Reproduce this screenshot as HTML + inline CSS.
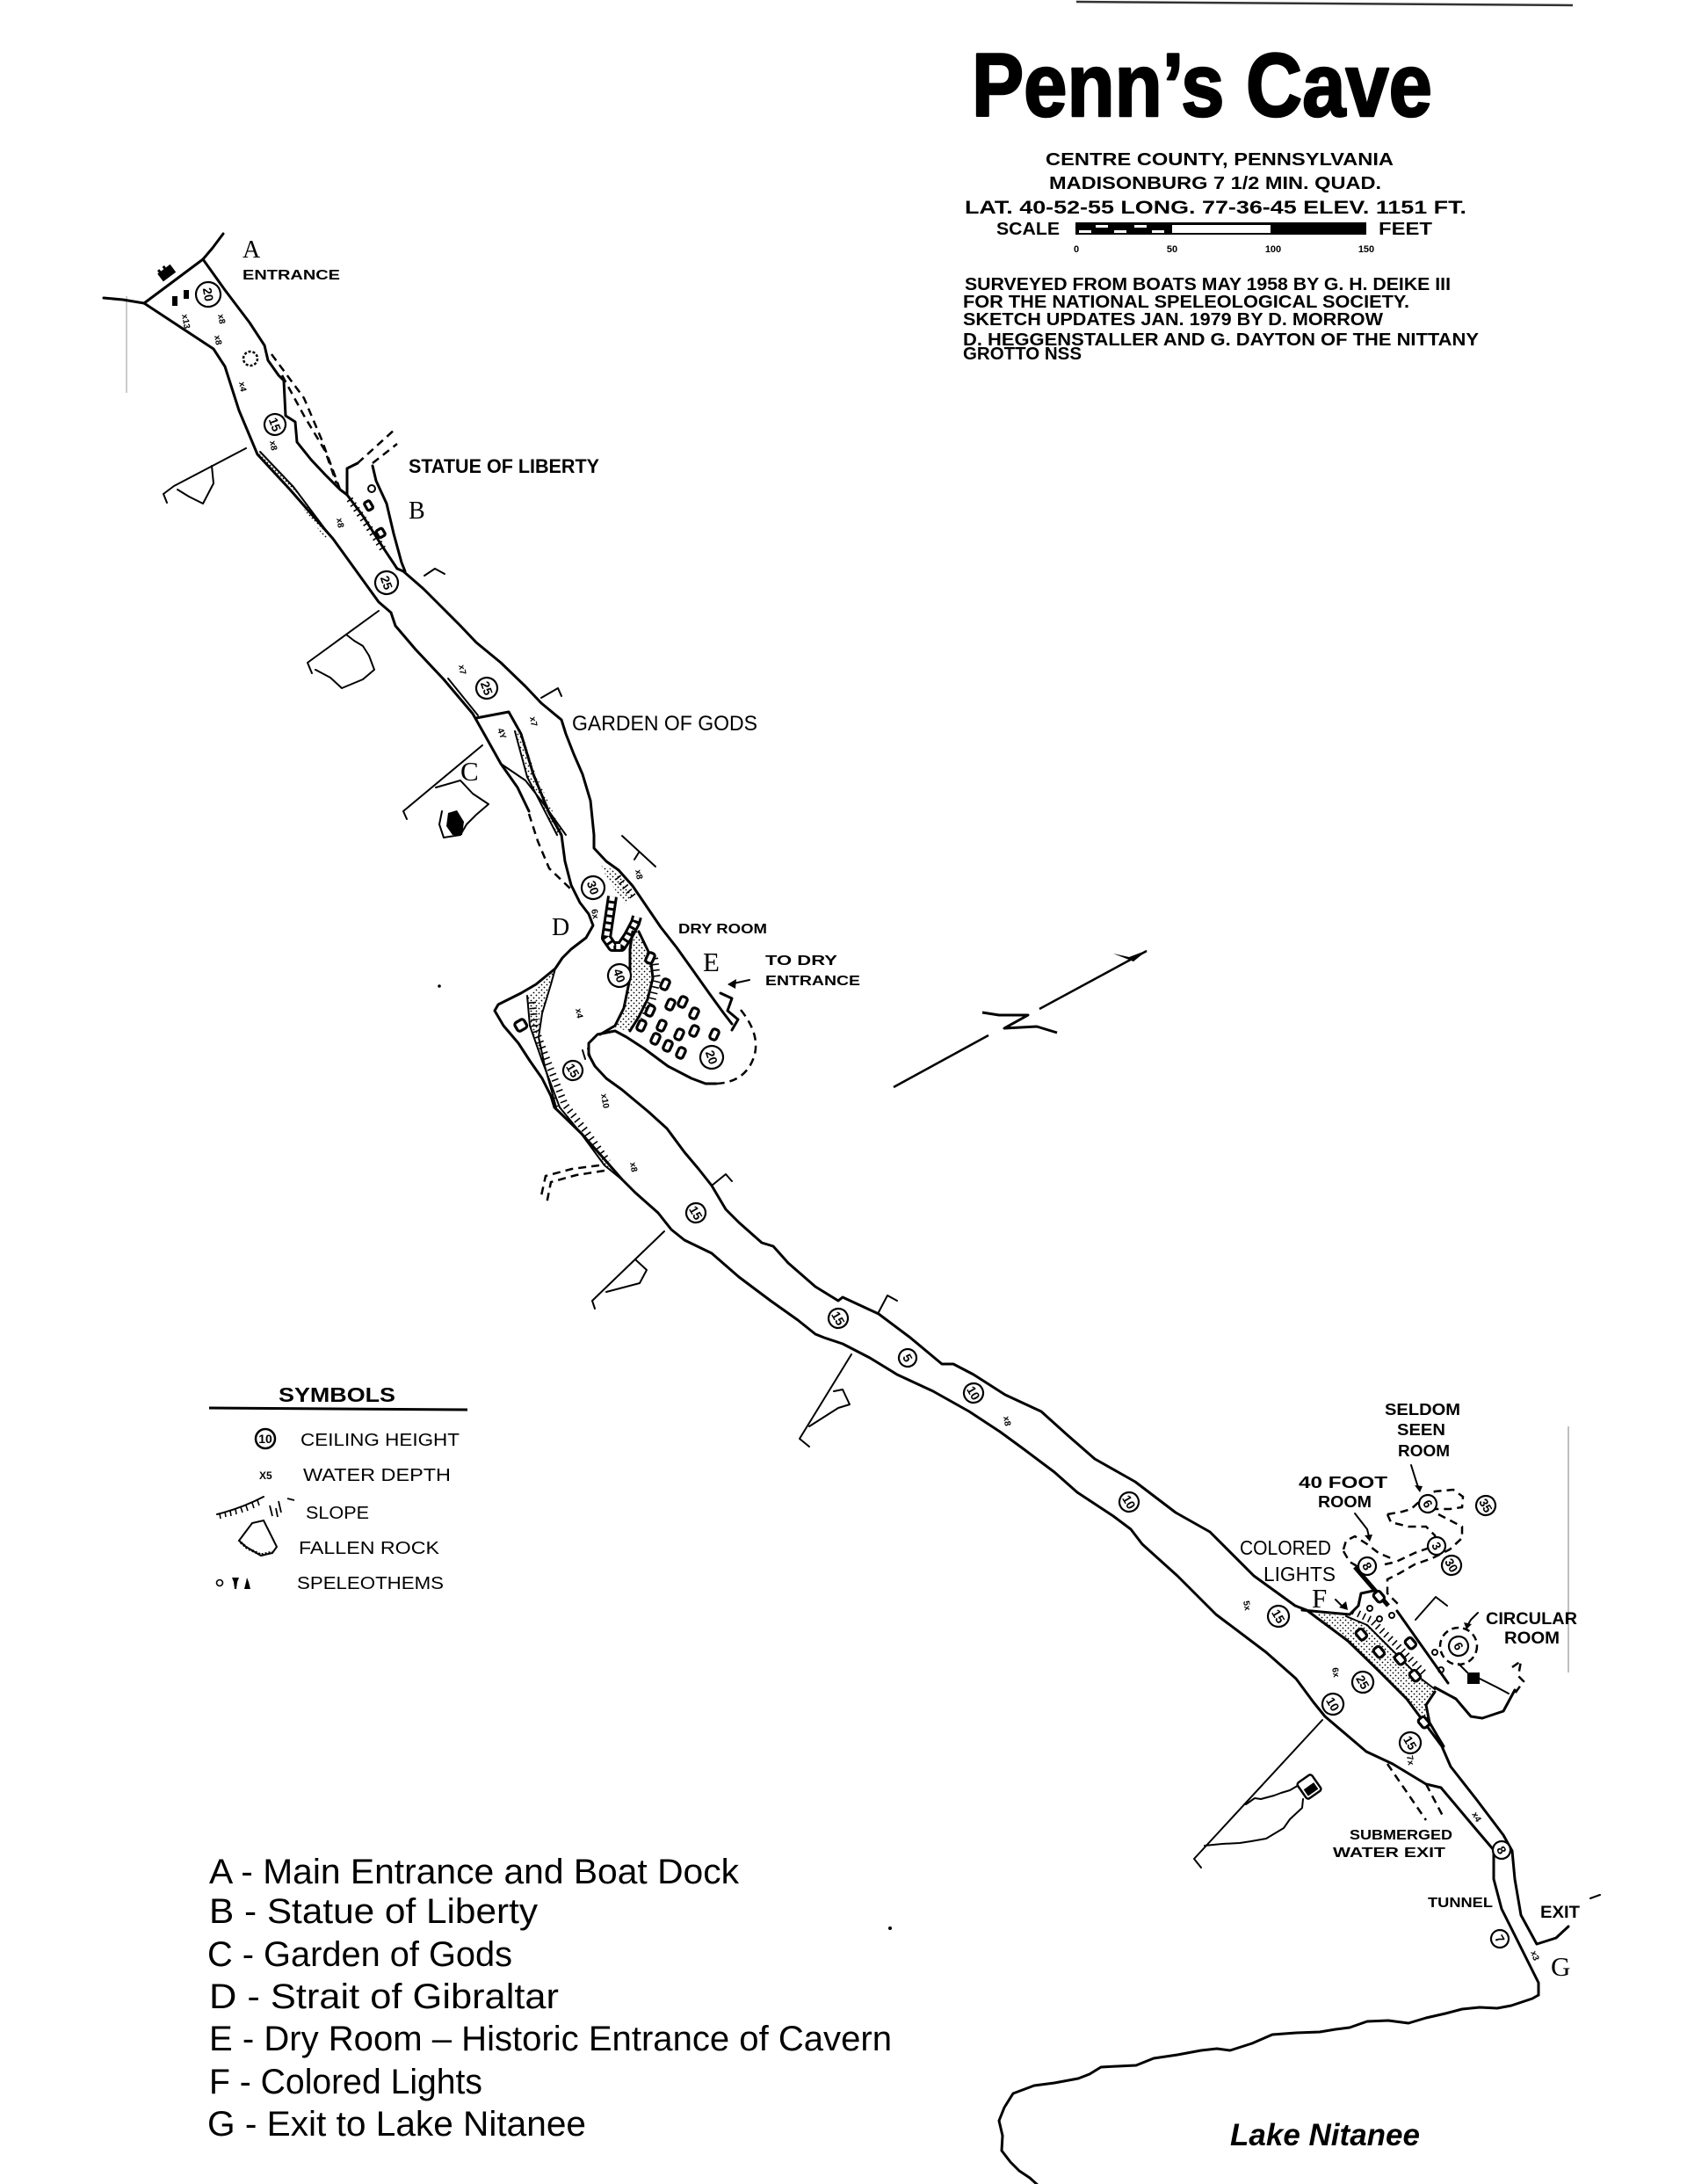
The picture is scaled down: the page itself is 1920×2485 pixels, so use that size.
<!DOCTYPE html>
<html><head><meta charset="utf-8"><title>Penn's Cave</title>
<style>
html,body{margin:0;padding:0;background:#fff;}
svg{display:block;}
.b{font-family:"Liberation Sans",sans-serif;font-weight:bold;fill:#000;}
.s{font-family:"Liberation Serif",serif;fill:#000;}
.h{font-family:"Liberation Sans Narrow","Liberation Sans",sans-serif;fill:#000;}
.w{fill:none;stroke:#000;stroke-width:3;stroke-linejoin:round;stroke-linecap:round;}
.t{fill:none;stroke:#000;stroke-width:2;stroke-linejoin:round;stroke-linecap:round;}
.d{fill:none;stroke:#000;stroke-width:2.5;stroke-dasharray:9 6;}
.ht{fill:none;stroke:#000;stroke-width:8;stroke-dasharray:1.6 5;}
.c circle{fill:#fff;stroke:#000;stroke-width:2.2;}
.c text{font-family:"Liberation Sans",sans-serif;font-weight:bold;font-size:14px;text-anchor:middle;}
.x{font-family:"Liberation Sans",sans-serif;font-weight:bold;font-size:10px;}
.rk{fill:#fff;stroke:#000;stroke-width:3.2;}
</style></head>
<body>
<svg width="1920" height="2485" viewBox="0 0 1920 2485" xmlns="http://www.w3.org/2000/svg">
<defs>
<pattern id="dots" width="6" height="6" patternUnits="userSpaceOnUse">
<circle cx="1.5" cy="1.5" r="0.9" fill="#000"/><circle cx="4.5" cy="4.5" r="0.9" fill="#000"/>
</pattern>
</defs>
<rect width="1920" height="2485" fill="#fff"/>

<!-- top line -->
<path d="M1225,2 L1790,6" stroke="#333" stroke-width="2.5" fill="none"/>
<!-- faint artifacts -->
<path d="M1785,1623 L1785,1903" stroke="#aaa" stroke-width="1.5"/>
<path d="M144,337 L144,447" stroke="#bbb" stroke-width="1.5"/>

<!-- TITLE BLOCK -->
<text class="b" x="1106" y="132" font-size="102" textLength="524" lengthAdjust="spacingAndGlyphs" stroke="#000" stroke-width="2.5" stroke-linejoin="round">Penn’s Cave</text>
<text class="b" x="1190" y="188" font-size="20" textLength="396" lengthAdjust="spacingAndGlyphs">CENTRE COUNTY, PENNSYLVANIA</text>
<text class="b" x="1194" y="215" font-size="20" textLength="378" lengthAdjust="spacingAndGlyphs">MADISONBURG 7 1/2 MIN. QUAD.</text>
<text class="b" x="1098" y="243" font-size="21" textLength="571" lengthAdjust="spacingAndGlyphs">LAT. 40-52-55  LONG. 77-36-45  ELEV. 1151 FT.</text>
<text class="b" x="1134" y="267" font-size="20" textLength="72" lengthAdjust="spacingAndGlyphs">SCALE</text>
<text class="b" x="1569" y="267" font-size="20" textLength="61" lengthAdjust="spacingAndGlyphs">FEET</text>
<!-- scale bar -->
<rect x="1224" y="253" width="331" height="14" fill="#000"/>
<rect x="1334" y="256" width="112" height="9" fill="#fff"/>
<rect x="1228" y="262" width="14" height="3" fill="#fff"/>
<rect x="1247" y="256" width="14" height="3" fill="#fff"/>
<rect x="1268" y="262" width="14" height="3" fill="#fff"/>
<rect x="1291" y="256" width="14" height="3" fill="#fff"/>
<rect x="1311" y="262" width="14" height="3" fill="#fff"/>
<text class="b" x="1225" y="287" font-size="11" text-anchor="middle">0</text>
<text class="b" x="1334" y="287" font-size="11" text-anchor="middle">50</text>
<text class="b" x="1449" y="287" font-size="11" text-anchor="middle">100</text>
<text class="b" x="1555" y="287" font-size="11" text-anchor="middle">150</text>
<text class="b" x="1098" y="330" font-size="20" textLength="553" lengthAdjust="spacingAndGlyphs">SURVEYED FROM BOATS MAY 1958 BY G. H. DEIKE III</text>
<text class="b" x="1096" y="350" font-size="20" textLength="508" lengthAdjust="spacingAndGlyphs">FOR THE NATIONAL SPELEOLOGICAL SOCIETY.</text>
<text class="b" x="1096" y="370" font-size="20" textLength="478" lengthAdjust="spacingAndGlyphs">SKETCH UPDATES JAN. 1979 BY D. MORROW</text>
<text class="b" x="1096" y="393" font-size="20" textLength="587" lengthAdjust="spacingAndGlyphs">D. HEGGENSTALLER AND G. DAYTON OF THE NITTANY</text>
<text class="b" x="1096" y="409" font-size="20" textLength="135" lengthAdjust="spacingAndGlyphs">GROTTO NSS</text>

<!-- ENTRANCE -->
<path class="w" d="M254,266 L242,282 L231,295"/>
<path class="w" d="M118,339 L140,341 L164,345"/>
<path class="w" d="M231,295 L164,345"/>
<g transform="translate(190,311) rotate(-37)"><rect x="-9" y="-6" width="18" height="11" fill="#000"/><rect x="-7" y="-9" width="3" height="4" fill="#000"/><rect x="0" y="-9" width="3" height="4" fill="#000"/></g>
<rect x="196" y="337" width="6" height="11" fill="#000"/>
<rect x="209" y="330" width="6" height="10" fill="#000"/>

<!-- MAIN SW WALL (upper) -->
<path class="w" d="M164,345 L243,397 L256,417 L272,467 L293,517 L330,557 L379,613 L431,685 L445,697 L450,712 L473,739 L505,773 L538,812 L551,835 L570,869 L589,896 L602,923"/>
<path class="d" d="M602,926 L612,957 L625,988 L649,1011"/>
<!-- slope along left wall -->
<path class="t" d="M296,514 L334,554 L376,610"/>
<polygon points="289,510 296,514 334,554 376,610 370,613 330,557" fill="url(#dots)"/>
<path class="t" d="M510,772 L544,814"/>

<!-- Garden island line L2 + continuing SW wall + lake -->
<path class="w" d="M542,817 L579,810 L593,835 L607,881 L625,925 L639,950 L643,980 L650,1007 L660,1027 L670,1040 L675,1053 L667,1067 L650,1080 L640,1090 L632,1102 L610,1120 L593,1130 L567,1143 L563,1150 L573,1167 L590,1187 L603,1207 L617,1227 L627,1247 L631,1260 L662,1290 L687,1318 L708,1342 L723,1357 L749,1380 L764,1399 L779,1411 L810,1426 L841,1453 L877,1480 L908,1502 L928,1518 L938,1522 L959,1529 L990,1545 L1021,1564 L1062,1583 L1103,1606 L1138,1629 L1164,1648 L1200,1675 L1226,1698 L1267,1725 L1287,1740 L1300,1757 L1340,1793 L1384,1837 L1441,1880 L1475,1910 L1495,1937 L1508,1953 L1555,1993 L1585,2007 L1623,2030 L1640,2034 L1677,2078 L1700,2105 L1700,2138 L1709,2172 L1734,2222 L1751,2256 L1751,2270"/>
<path class="w" stroke-width="2.6" d="M1751,2270 L1744,2274 L1738,2276 L1720,2282 L1704,2285 L1684,2284 L1664,2286 L1645,2291 L1623,2296 L1603,2302 L1580,2299 L1556,2300 L1536,2307 L1520,2309 L1502,2312 L1475,2313 L1448,2315 L1425,2325 L1400,2333 L1385,2331 L1367,2333 L1340,2338 L1313,2342 L1293,2350 L1272,2351 L1253,2352 L1240,2360 L1227,2365 L1200,2370 L1177,2373 L1153,2382 L1143,2398 L1137,2413 L1141,2430 L1140,2447 L1150,2460 L1160,2470 L1172,2478 L1183,2488"/>

<!-- inner garden line -->
<path class="t" d="M570,869 L598,888 L616,911 L644,950"/>
<polygon points="585,830 595,836 610,881 641,950 634,952 600,884" fill="url(#dots)"/>
<path class="t" d="M586,832 L600,884 L634,950"/>
<text class="x" transform="translate(566,830) rotate(70)">4Y</text>

<!-- MAIN NE WALL -->
<path class="w" d="M231,295 L256,330 L284,367 L301,393 L305,410 L317,427 L323,433 L325,473 L336,480 L338,503 L354,523 L370,540 L387,557 L395,563"/>
<path class="w" d="M395,563 L413,587 L436,623 L452,647"/>
<path class="ht" d="M398,568 L415,593 L438,628"/>
<path class="w" d="M452,647 L459,650 L482,670 L505,693 L524,712 L542,731 L570,754 L598,781 L616,800 L639,819 L644,835 L653,858 L663,881 L672,911 L676,950 L676,965 L690,980 L704,990 L720,1008 L737,1033 L752,1055 L770,1078 L790,1106 L807,1130 L823,1152 L833,1165"/>
<!-- B alcove -->
<path class="w" d="M395,563 L395,533 L407,527"/>
<path class="d" d="M407,527 L450,488"/>
<path class="d" d="M424,527 L452,505"/>
<path class="w" d="M424,530 L428,547 L440,573 L448,607 L457,640 L461,650"/>
<circle cx="423" cy="556" r="4" fill="none" stroke="#000" stroke-width="2"/>
<rect x="416" y="570" width="7" height="10" rx="2" class="rk" transform="rotate(-30 420 575)"/>
<rect x="429" y="602" width="8" height="9" rx="2" class="rk" transform="rotate(-30 433 606)"/>
<!-- side passage dashed near top -->
<path class="d" d="M309,403 L346,453 L366,500 L387,557"/>
<path class="d" d="M321,427 L346,473 L370,513 L383,550"/>
<circle cx="285" cy="408" r="8" fill="none" stroke="#000" stroke-width="2.5" stroke-dasharray="3 2"/>

<!-- Dry room -->
<path class="w" d="M820,1130 L833,1136 L828,1150 L840,1160 L833,1172"/>
<path class="d" d="M843,1149 Q872,1185 852,1215 Q840,1232 815,1233"/>
<path class="t" d="M853,1115 L830,1120"/><path d="M828,1120 L838,1114 L837,1125 Z" fill="#000"/>
<polygon points="683,985 700,990 720,1018 712,1030 695,1005" fill="url(#dots)"/>
<path class="ht" d="M703,998 L722,1022"/>
<path d="M697,1020 L693,1047 L690,1067 L697,1077 L707,1077 L715,1065 L723,1050 L725,1043" fill="none" stroke="#000" stroke-width="12" stroke-linejoin="round"/>
<path d="M697,1020 L693,1047 L690,1067 L697,1077 L707,1077 L715,1065 L723,1050 L725,1043" fill="none" stroke="#fff" stroke-width="6" stroke-dasharray="5 3" stroke-linejoin="round"/>
<path class="w" d="M720,1060 L717,1080 L717,1113 L710,1147 L700,1167 L683,1177"/>
<path class="w" d="M727,1060 L740,1087 L743,1113 L737,1137 L727,1157 L717,1173"/>
<polygon points="720,1060 727,1060 740,1087 743,1113 737,1137 727,1157 717,1173 700,1170 710,1147 717,1113 717,1080" fill="url(#dots)"/>
<path class="ht" d="M745,1090 L748,1115 L742,1140 L732,1160"/>
<g>
<rect x="736" y="1084" width="8" height="12" rx="3" class="rk" transform="rotate(25 740 1090)"/>
<rect x="753" y="1114" width="8" height="12" rx="3" class="rk" transform="rotate(25 757 1120)"/>
<rect x="759" y="1137" width="8" height="12" rx="3" class="rk" transform="rotate(25 763 1143)"/>
<rect x="736" y="1144" width="8" height="12" rx="3" class="rk" transform="rotate(25 740 1150)"/>
<rect x="749" y="1161" width="8" height="12" rx="3" class="rk" transform="rotate(25 753 1167)"/>
<rect x="769" y="1171" width="8" height="12" rx="3" class="rk" transform="rotate(25 773 1177)"/>
<rect x="786" y="1167" width="8" height="12" rx="3" class="rk" transform="rotate(25 790 1173)"/>
<rect x="756" y="1184" width="8" height="12" rx="3" class="rk" transform="rotate(25 760 1190)"/>
<rect x="726" y="1161" width="8" height="12" rx="3" class="rk" transform="rotate(25 730 1167)"/>
<rect x="786" y="1147" width="8" height="12" rx="3" class="rk" transform="rotate(25 790 1153)"/>
<rect x="809" y="1171" width="8" height="12" rx="3" class="rk" transform="rotate(25 813 1177)"/>
<rect x="773" y="1134" width="8" height="12" rx="3" class="rk" transform="rotate(25 777 1140)"/>
<rect x="771" y="1192" width="8" height="12" rx="3" class="rk" transform="rotate(25 775 1198)"/>
<rect x="742" y="1176" width="8" height="12" rx="3" class="rk" transform="rotate(25 746 1182)"/>
</g>

<!-- Hook + main NE wall lower -->
<path class="w" d="M815,1233 L803,1233 L787,1227 L760,1213 L733,1193 L713,1180 L700,1173 L680,1177 L670,1187 L670,1200 L677,1213 L690,1227 L708,1240 L738,1265 L759,1284 L779,1311 L795,1330 L810,1349 L826,1376 L841,1391 L867,1414 L880,1418 L897,1437 L928,1464 L954,1480 L959,1476 L1000,1495 L1036,1522 L1072,1552 L1085,1552 L1108,1564 L1144,1587 L1185,1606 L1215,1633 L1246,1660 L1292,1686 L1338,1721 L1377,1743 L1427,1793 L1474,1827 L1487,1832 L1534,1867 L1568,1900 L1601,1933 L1621,1960 L1641,1987 L1651,2010 L1680,2047 L1711,2088 L1721,2106 L1724,2138 L1731,2179 L1749,2212 L1771,2205 L1785,2192"/>
<path class="t" d="M1810,2160 L1821,2156"/>

<!-- Bulb stipple -->
<polygon points="632,1102 627,1120 617,1153 613,1180 620,1213 633,1260 637,1260 617,1207 603,1167 600,1133" fill="url(#dots)"/>
<path class="t" d="M632,1102 L627,1120 L617,1153 L613,1180 L620,1213 L633,1260"/>
<path class="t" d="M600,1133 L603,1167 L617,1207 L637,1260 L660,1288 L688,1326 L710,1344"/>
<path class="ht" d="M606,1140 L609,1170 L623,1207 L643,1257 L666,1286 L692,1322"/>
<polygon points="640,1262 662,1290 690,1328 708,1342 687,1318 660,1288" fill="url(#dots)"/>
<rect x="587" y="1161" width="12" height="11" rx="3" class="rk" transform="rotate(-30 593 1167)"/>
<path class="t" d="M663,1195 L666,1205 M669,1193 L672,1203"/>

<!-- dashed side near bulb -->
<path class="d" d="M682,1326 L651,1330 L621,1338 L615,1365"/>
<path class="d" d="M688,1332 L656,1337 L627,1345 L622,1370"/>

<!-- F area -->
<path d="M1542,1783 L1580,1827" stroke="#000" stroke-width="5" fill="none"/>
<path class="w" d="M1482,1832 L1536,1837 L1546,1827 L1549,1813 L1563,1810"/>
<path class="w" d="M1590,1833 L1648,1915"/>
<polygon points="1487,1834 1532,1839 1556,1849 1586,1879 1616,1909 1633,1922 1623,1940 1627,1960 1640,1985 1630,1972 1610,1945 1590,1925 1568,1902 1534,1869" fill="url(#dots)"/>
<path class="t" d="M1532,1839 L1556,1849 L1586,1879 L1616,1909 L1633,1922"/>
<path class="ht" d="M1540,1833 L1560,1843 L1590,1872 L1620,1903"/>
<path class="w" d="M1633,1920 L1657,1933 L1674,1953 L1687,1955 L1711,1947 L1724,1923"/>
<path class="w" d="M1633,1925 L1623,1940 L1627,1960 L1637,1977 L1643,1987"/>
<path class="t" d="M1660,1893 L1670,1903 M1684,1910 L1704,1920 L1717,1927"/>
<rect x="1670" y="1903" width="14" height="13" fill="#000"/>
<g>
<rect x="1565" y="1811" width="9" height="12" rx="3" class="rk" transform="rotate(-40 1569 1817)"/>
<rect x="1545" y="1854" width="9" height="12" rx="3" class="rk" transform="rotate(-40 1549 1860)"/>
<rect x="1565" y="1874" width="9" height="12" rx="3" class="rk" transform="rotate(-40 1569 1880)"/>
<rect x="1589" y="1882" width="9" height="12" rx="3" class="rk" transform="rotate(-40 1593 1888)"/>
<rect x="1601" y="1864" width="9" height="12" rx="3" class="rk" transform="rotate(-40 1605 1870)"/>
<rect x="1606" y="1901" width="9" height="12" rx="3" class="rk" transform="rotate(-40 1610 1907)"/>
<rect x="1616" y="1954" width="9" height="12" rx="3" class="rk" transform="rotate(-40 1620 1960)"/>
<circle cx="1559" cy="1830" r="3" fill="none" stroke="#000" stroke-width="2"/>
<circle cx="1570" cy="1842" r="3" fill="none" stroke="#000" stroke-width="2"/>
<circle cx="1584" cy="1838" r="3" fill="none" stroke="#000" stroke-width="2"/>
<circle cx="1633" cy="1880" r="3" fill="none" stroke="#000" stroke-width="2"/>
<circle cx="1640" cy="1900" r="3" fill="none" stroke="#000" stroke-width="2"/>
</g>
<!-- dashed rooms -->
<path class="d" d="M1579,1723 L1596,1720 L1606,1717 L1617,1707 L1633,1697 L1654,1695 L1665,1703 L1664,1715 L1650,1717 L1633,1717 L1623,1720"/>
<path class="d" d="M1579,1723 L1583,1732 L1603,1737 L1623,1737 L1633,1747 L1637,1760"/>
<path class="d" d="M1637,1723 L1664,1737 L1664,1750 L1650,1763 L1630,1773 L1610,1780 L1593,1790 L1579,1797 L1579,1813 L1589,1823 L1593,1827"/>
<path class="d" d="M1529,1763 L1532,1753 L1542,1748 L1556,1757 L1569,1767 L1583,1773"/>
<path class="d" d="M1529,1765 L1536,1777 L1546,1783"/>
<path class="d" d="M1576,1780 L1589,1777 L1610,1767 L1630,1760"/>
<circle cx="1660" cy="1873" r="21" fill="none" stroke="#000" stroke-width="2.5" stroke-dasharray="8 5"/>
<path class="d" d="M1721,1897 L1731,1890 L1728,1907 L1734,1913 L1724,1927"/>
<!-- label arrows -->
<path class="t" d="M1606,1667 L1611,1683 L1614,1692"/><path d="M1610,1690 L1619,1691 L1616,1698 Z" fill="#000"/>
<path class="t" d="M1542,1722 L1556,1740 L1558,1748"/><path d="M1553,1747 L1562,1746 L1559,1754 Z" fill="#000"/>
<path class="t" d="M1520,1820 L1528,1828"/><path d="M1524,1829 L1532,1822 L1534,1832 Z" fill="#000"/>
<path class="t" d="M1682,1835 L1674,1843 L1671,1848"/><path d="M1666,1846 L1675,1848 L1669,1854 Z" fill="#000"/>

<!-- submerged dashed -->
<path class="d" d="M1579,2007 L1623,2071"/>
<path class="d" d="M1623,2030 L1643,2068"/>

<!-- CROSS-SECTIONS -->
<path class="t" d="M280,510 L198,553 L186,562 L190,572"/>
<path class="t" d="M241,530 L243,550 L231,573 L215,565 L202,557"/>
<path class="t" d="M431,695 L350,754 L355,766"/>
<path class="t" d="M394,722 L403,729 L413,735 L420,746 L426,762 L413,773 L389,783 L376,771 L359,762"/>
<path class="t" d="M549,848 L459,923 L463,932"/>
<path class="t" d="M496,896 L524,888 L538,903 L556,915 L542,927 L531,938 L524,950 L505,953 L500,938 L503,923"/>
<polygon points="510,925 520,922 528,935 526,950 515,950 508,940" fill="#000"/>
<path class="t" d="M810,1349 L826,1336 L833,1344"/>
<path class="t" d="M756,1401 L674,1480 L677,1489"/>
<path class="t" d="M723,1433 L736,1445 L728,1460 L690,1470"/>
<path class="t" d="M1000,1493 L1010,1474 L1021,1480"/>
<path class="t" d="M969,1541 L910,1637 L921,1646"/>
<path class="t" d="M949,1583 L959,1581 L967,1598 L954,1602 L921,1623"/>
<path class="t" d="M1505,1957 L1359,2115 L1367,2125"/>
<path class="t" d="M1371,2100 L1391,2098 L1411,2097 L1424,2095 L1441,2092 L1461,2080 L1468,2070 L1482,2057 L1483,2047"/>
<path class="t" d="M1418,2053 L1428,2046 L1435,2047 L1450,2043 L1458,2040 L1468,2037 L1480,2030"/>
<g transform="rotate(-35 1490 2033)"><rect x="1480" y="2022" width="20" height="22" rx="3" fill="#fff" stroke="#000" stroke-width="2.5"/><rect x="1483" y="2032" width="14" height="9" fill="#000"/></g>
<path class="t" d="M1611,1843 L1634,1817 L1647,1827"/>
<path class="t" d="M616,794 L635,783 L639,792"/>
<path class="t" d="M483,655 L495,647 L506,653"/>
<path class="t" d="M708,951 L746,986"/><path class="t" d="M727,970 L722,978"/>

<!-- NORTH ARROW -->
<path d="M1017,1237 L1125,1178" stroke="#000" stroke-width="2.5" fill="none"/>
<path d="M1183,1148 L1305,1082" stroke="#000" stroke-width="2.5" fill="none"/>
<path d="M1267,1085 L1285,1089 L1306,1081 L1290,1094 Z" fill="#000"/>
<path d="M1118,1152 L1137,1155 L1170,1155 L1143,1170 L1180,1168 L1203,1175" fill="none" stroke="#000" stroke-width="3" stroke-linejoin="round"/>

<!-- dots -->
<circle cx="500" cy="1122" r="1.8" fill="#000"/>
<circle cx="1013" cy="2194" r="2" fill="#000"/>

<!-- CEILING CIRCLES -->
<g class="c">
<g transform="translate(237,335) rotate(80)"><circle r="14"/><text y="5">20</text></g>
<g transform="translate(313,483) rotate(70)"><circle r="12"/><text y="5">15</text></g>
<g transform="translate(440,663) rotate(70)"><circle r="13"/><text y="5">25</text></g>
<g transform="translate(554,783) rotate(70)"><circle r="12"/><text y="5">25</text></g>
<g transform="translate(675,1010) rotate(70)"><circle r="13"/><text y="5">30</text></g>
<g transform="translate(705,1110) rotate(70)"><circle r="13"/><text y="5">40</text></g>
<g transform="translate(810,1203) rotate(70)"><circle r="13"/><text y="5">20</text></g>
<g transform="translate(652,1218) rotate(60)"><circle r="11"/><text y="5">15</text></g>
<g transform="translate(792,1380) rotate(60)"><circle r="11"/><text y="5">15</text></g>
<g transform="translate(954,1500) rotate(60)"><circle r="11"/><text y="5">15</text></g>
<g transform="translate(1033,1545) rotate(60)"><circle r="10"/><text y="5">5</text></g>
<g transform="translate(1108,1585) rotate(60)"><circle r="11"/><text y="5">10</text></g>
<g transform="translate(1285,1709) rotate(60)"><circle r="11"/><text y="5">10</text></g>
<g transform="translate(1455,1839) rotate(60)"><circle r="12"/><text y="5">15</text></g>
<g transform="translate(1551,1914) rotate(60)"><circle r="12"/><text y="5">25</text></g>
<g transform="translate(1517,1939) rotate(60)"><circle r="12"/><text y="5">10</text></g>
<g transform="translate(1605,1983) rotate(60)"><circle r="12"/><text y="5">15</text></g>
<g transform="translate(1556,1782) rotate(60)"><circle r="10"/><text y="5">8</text></g>
<g transform="translate(1625,1711) rotate(60)"><circle r="10"/><text y="5">6</text></g>
<g transform="translate(1691,1713) rotate(60)"><circle r="11"/><text y="5">35</text></g>
<g transform="translate(1635,1759) rotate(60)"><circle r="10"/><text y="5">3</text></g>
<g transform="translate(1652,1781) rotate(60)"><circle r="11"/><text y="5">30</text></g>
<g transform="translate(1660,1873) rotate(60)"><circle r="11"/><text y="5">6</text></g>
<g transform="translate(1709,2105) rotate(60)"><circle r="10"/><text y="5">8</text></g>
<g transform="translate(1707,2206) rotate(60)"><circle r="10"/><text y="5">7</text></g>
</g>

<!-- depth marks -->
<g class="x">
<text transform="translate(248,358) rotate(80)">x8</text>
<text transform="translate(207,358) rotate(80)">x13</text>
<text transform="translate(244,382) rotate(80)">x8</text>
<text transform="translate(272,435) rotate(80)">x4</text>
<text transform="translate(307,502) rotate(80)">x8</text>
<text transform="translate(383,590) rotate(80)">x8</text>
<text transform="translate(522,757) rotate(80)">x7</text>
<text transform="translate(603,816) rotate(80)">x7</text>
<text transform="translate(723,990) rotate(80)">x8</text>
<text transform="translate(673,1035) rotate(80)">6x</text>
<text transform="translate(655,1148) rotate(80)">x4</text>
<text transform="translate(684,1245) rotate(80)">x10</text>
<text transform="translate(717,1323) rotate(80)">x8</text>
<text transform="translate(1142,1612) rotate(80)">x8</text>
<text transform="translate(1415,1822) rotate(80)">5x</text>
<text transform="translate(1516,1898) rotate(80)">6x</text>
<text transform="translate(1601,1998) rotate(80)">7x</text>
<text transform="translate(1675,2064) rotate(60)">x4</text>
<text transform="translate(1742,2221) rotate(70)">x3</text>
</g>

<!-- MAP LABELS -->
<text class="s" x="276" y="293" font-size="28">A</text>
<text class="b" x="276" y="318" font-size="16" textLength="111" lengthAdjust="spacingAndGlyphs">ENTRANCE</text>
<text class="b" x="465" y="538" font-size="22" textLength="217" lengthAdjust="spacingAndGlyphs">STATUE OF LIBERTY</text>
<text class="s" x="465" y="590" font-size="28">B</text>
<text class="b" x="651" y="831" font-size="24" textLength="211" lengthAdjust="spacingAndGlyphs" style="font-weight:normal">GARDEN OF GODS</text>
<text class="s" x="524" y="888" font-size="31">C</text>
<text class="s" x="628" y="1064" font-size="28">D</text>
<text class="b" x="772" y="1062" font-size="16" textLength="101" lengthAdjust="spacingAndGlyphs">DRY ROOM</text>
<text class="s" x="800" y="1105" font-size="31">E</text>
<text class="b" x="871" y="1098" font-size="16" textLength="82" lengthAdjust="spacingAndGlyphs">TO DRY</text>
<text class="b" x="871" y="1121" font-size="16" textLength="108" lengthAdjust="spacingAndGlyphs">ENTRANCE</text>
<text class="b" x="1576" y="1610" font-size="18" textLength="86" lengthAdjust="spacingAndGlyphs">SELDOM</text>
<text class="b" x="1590" y="1633" font-size="18" textLength="55" lengthAdjust="spacingAndGlyphs">SEEN</text>
<text class="b" x="1591" y="1657" font-size="18" textLength="59" lengthAdjust="spacingAndGlyphs">ROOM</text>
<text class="b" x="1478" y="1693" font-size="18" textLength="101" lengthAdjust="spacingAndGlyphs">40 FOOT</text>
<text class="b" x="1500" y="1715" font-size="18" textLength="61" lengthAdjust="spacingAndGlyphs">ROOM</text>
<text class="b" x="1411" y="1769" font-size="23" textLength="104" lengthAdjust="spacingAndGlyphs" style="font-weight:normal">COLORED</text>
<text class="b" x="1438" y="1799" font-size="23" textLength="82" lengthAdjust="spacingAndGlyphs" style="font-weight:normal">LIGHTS</text>
<text class="s" x="1493" y="1829" font-size="31">F</text>
<text class="b" x="1691" y="1848" font-size="19" textLength="104" lengthAdjust="spacingAndGlyphs">CIRCULAR</text>
<text class="b" x="1712" y="1870" font-size="19" textLength="63" lengthAdjust="spacingAndGlyphs">ROOM</text>
<text class="b" x="1536" y="2093" font-size="16" textLength="117" lengthAdjust="spacingAndGlyphs">SUBMERGED</text>
<text class="b" x="1517" y="2113" font-size="16" textLength="128" lengthAdjust="spacingAndGlyphs">WATER EXIT</text>
<text class="b" x="1625" y="2170" font-size="16" textLength="74" lengthAdjust="spacingAndGlyphs">TUNNEL</text>
<text class="b" x="1753" y="2182" font-size="19" textLength="45" lengthAdjust="spacingAndGlyphs">EXIT</text>
<text class="s" x="1765" y="2248" font-size="31">G</text>
<text class="b" x="1400" y="2441" font-size="35" font-style="italic" textLength="216" lengthAdjust="spacingAndGlyphs">Lake Nitanee</text>

<!-- SYMBOLS LEGEND -->
<text class="b" x="317" y="1595" font-size="23" textLength="133" lengthAdjust="spacingAndGlyphs">SYMBOLS</text>
<path d="M238,1602 L532,1604" stroke="#000" stroke-width="3"/>
<circle cx="302" cy="1637" r="11" fill="none" stroke="#000" stroke-width="2.5"/>
<text class="b" x="302" y="1642" font-size="14" text-anchor="middle">10</text>
<text class="b" x="342" y="1645" font-size="20" textLength="181" lengthAdjust="spacingAndGlyphs" style="font-weight:normal">CEILING HEIGHT</text>
<text class="b" x="295" y="1683" font-size="12">X5</text>
<text class="b" x="345" y="1685" font-size="20" textLength="168" lengthAdjust="spacingAndGlyphs" style="font-weight:normal">WATER DEPTH</text>
<path class="t" d="M247,1723 Q275,1716 300,1703"/>
<path d="M250,1722 L251,1728 M256,1720 L257,1726 M262,1719 L263,1725 M268,1717 L269,1723 M274,1715 L276,1721 M280,1713 L282,1719 M287,1710 L289,1716 M293,1707 L295,1713" stroke="#000" stroke-width="1.6"/>
<path d="M307,1713 L310,1725 M317,1708 L320,1721 M327,1705 L335,1707 M314,1716 L316,1726" stroke="#000" stroke-width="1.8"/>
<text class="b" x="348" y="1728" font-size="20" textLength="72" lengthAdjust="spacingAndGlyphs" style="font-weight:normal">SLOPE</text>
<path d="M272,1753 L287,1733 L300,1730 L310,1750 L315,1760 L310,1767 L297,1770 L280,1760 Z" fill="#fff" stroke="#000" stroke-width="2"/>
<path d="M274,1755 L282,1762 L297,1769 L310,1766" fill="none" stroke="#000" stroke-width="3" stroke-dasharray="2 2"/>
<text class="b" x="340" y="1768" font-size="20" textLength="160" lengthAdjust="spacingAndGlyphs" style="font-weight:normal">FALLEN ROCK</text>
<circle cx="250" cy="1801" r="3.5" fill="none" stroke="#000" stroke-width="1.6"/>
<path d="M264,1795 L272,1795 L270,1800 L269,1808 L267,1808 L266,1800 Z" fill="#000"/>
<path d="M278,1808 L285,1808 L283,1800 L281,1795 L280,1800 Z" fill="#000"/>
<text class="b" x="338" y="1808" font-size="20" textLength="167" lengthAdjust="spacingAndGlyphs" style="font-weight:normal">SPELEOTHEMS</text>

<!-- LETTER LEGEND -->
<text class="h" x="238" y="2143" font-size="40" textLength="603" lengthAdjust="spacingAndGlyphs">A - Main Entrance and Boat Dock</text>
<text class="h" x="238" y="2188" font-size="40" textLength="374" lengthAdjust="spacingAndGlyphs">B - Statue of Liberty</text>
<text class="h" x="236" y="2237" font-size="40" textLength="347" lengthAdjust="spacingAndGlyphs">C - Garden of Gods</text>
<text class="h" x="238" y="2285" font-size="40" textLength="398" lengthAdjust="spacingAndGlyphs">D - Strait of Gibraltar</text>
<text class="h" x="238" y="2333" font-size="40" textLength="777" lengthAdjust="spacingAndGlyphs">E - Dry Room – Historic Entrance of Cavern</text>
<text class="h" x="238" y="2382" font-size="40" textLength="311" lengthAdjust="spacingAndGlyphs">F - Colored Lights</text>
<text class="h" x="236" y="2430" font-size="40" textLength="431" lengthAdjust="spacingAndGlyphs">G - Exit to Lake Nitanee</text>
</svg>
</body></html>
